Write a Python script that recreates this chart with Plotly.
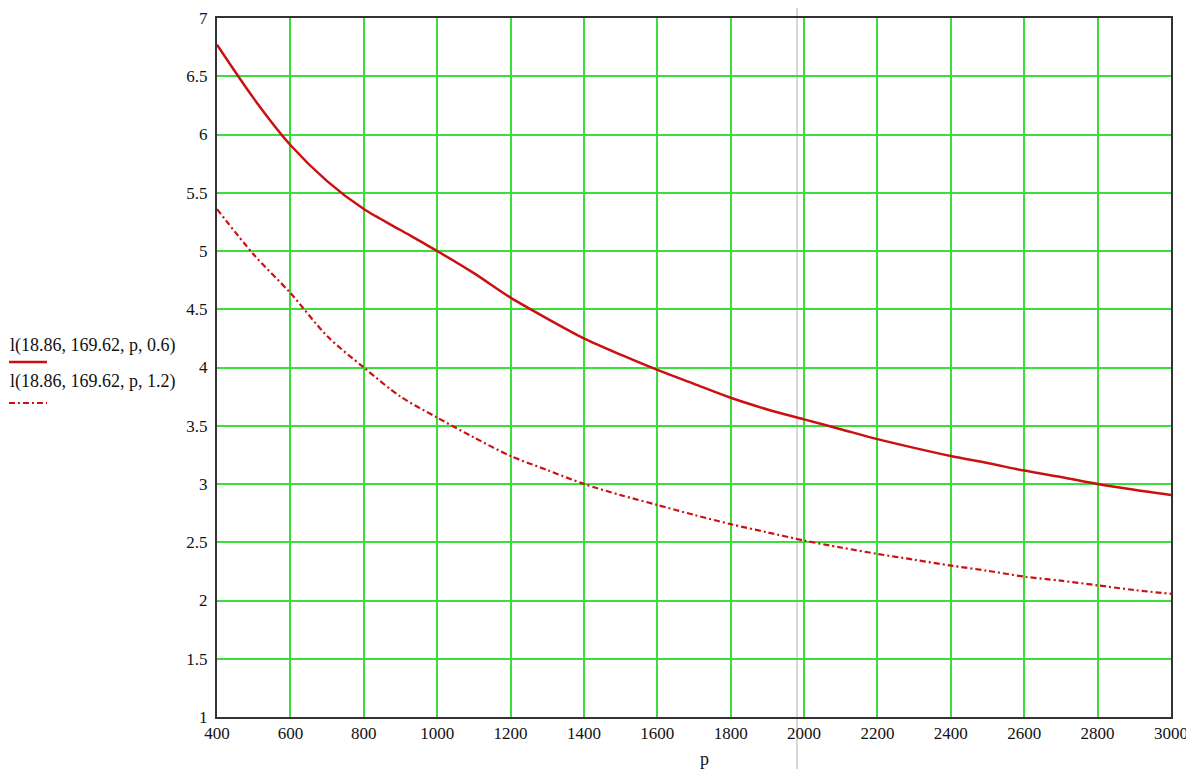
import plotly.graph_objects as go

p_vals = [400, 500, 600, 700, 800, 900, 1000, 1100, 1200, 1300, 1400, 1500, 1600, 1700,
          1800, 1900, 2000, 2100, 2200, 2300, 2400, 2500, 2600, 2700, 2800, 2900, 3000]
l_06 = [6.77, 6.31, 5.91, 5.60, 5.36, 5.18, 5.00, 4.81, 4.60, 4.42, 4.25, 4.11, 3.98, 3.86,
        3.74, 3.64, 3.555, 3.47, 3.385, 3.31, 3.24, 3.18, 3.115, 3.06, 3.00, 2.95, 2.905]
l_12 = [5.36, 4.97, 4.64, 4.27, 4.00, 3.75, 3.57, 3.40, 3.24, 3.12, 3.00, 2.905, 2.82, 2.735,
        2.655, 2.585, 2.515, 2.455, 2.40, 2.35, 2.30, 2.255, 2.205, 2.17, 2.13, 2.09, 2.057]
x_ticks = list(range(400, 3001, 200))
y_ticks = [1, 1.5, 2, 2.5, 3, 3.5, 4, 4.5, 5, 5.5, 6, 6.5, 7]
legend_names = ["l(18.86, 169.62, p, 0.6)", "l(18.86, 169.62, p, 1.2)"]

RED = "#cc1010"
GREEN = "#3ddc3d"
FONT = "Liberation Serif"
TXT = "#111111"
DASH = "6px,3px,2px,3px"

fig = go.Figure()
fig.add_trace(go.Scatter(x=p_vals, y=l_06, mode="lines",
                         line=dict(color=RED, width=2.5, shape="spline", smoothing=0.8),
                         name=legend_names[0], showlegend=False))
fig.add_trace(go.Scatter(x=p_vals, y=l_12, mode="lines",
                         line=dict(color=RED, width=2.2, dash=DASH, shape="spline", smoothing=0.8),
                         name=legend_names[1], showlegend=False))

# page has an 8px body margin; figure is placed at (8, 8)
OFF = 8
W, H = 1186, 761
L, R, T, B = 209, 23, 10, 52
pw, ph = W - L - R, H - T - B

def px(xpix):  # screen pixel -> paper x
    return (xpix - OFF - L) / pw

def py(ypix):  # screen pixel -> paper y
    return (OFF + H - B - ypix) / ph

shapes = [
    dict(type="line", xref="paper", yref="paper", x0=px(797), x1=px(797), y0=py(775), y1=py(0),
         line=dict(color="#d8d8d8", width=2), layer="below"),
    dict(type="line", xref="paper", yref="paper", x0=px(9), x1=px(47), y0=py(362), y1=py(362),
         line=dict(color=RED, width=2.5)),
    dict(type="line", xref="paper", yref="paper", x0=px(9), x1=px(47), y0=py(403), y1=py(403),
         line=dict(color=RED, width=2.2, dash=DASH)),
]

annotations = [
    dict(text=legend_names[0], xref="paper", yref="paper", x=px(8), y=py(345), xanchor="left",
         yanchor="middle", showarrow=False, font=dict(family=FONT, size=18, color=TXT)),
    dict(text=legend_names[1], xref="paper", yref="paper", x=px(8), y=py(381), xanchor="left",
         yanchor="middle", showarrow=False, font=dict(family=FONT, size=18, color=TXT)),
    dict(text="p", xref="paper", yref="paper", x=px(704), y=py(759), xanchor="center",
         yanchor="middle", showarrow=False, font=dict(family=FONT, size=18, color=TXT)),
]

fig.update_layout(
    width=W, height=H,
    margin=dict(l=L, r=R, t=T, b=B, autoexpand=False),
    paper_bgcolor="white", plot_bgcolor="white",
    font=dict(family=FONT, size=17, color=TXT),
    shapes=shapes, annotations=annotations,
    showlegend=False,
)
fig.update_xaxes(range=[400, 3000], tickvals=x_ticks, ticktext=[str(v) for v in x_ticks],
                 showgrid=True, gridcolor=GREEN, gridwidth=1.8, zeroline=False,
                 showline=True, linecolor="#333", linewidth=2, mirror=True, ticks="", ticklen=0)
fig.update_yaxes(range=[1, 7], tickvals=y_ticks, ticktext=["%g" % v for v in y_ticks],
                 ticklabelstandoff=4,
                 showgrid=True, gridcolor=GREEN, gridwidth=1.8, zeroline=False,
                 showline=True, linecolor="#333", linewidth=2, mirror=True, ticks="", ticklen=0)

fig.write_html("out.html")
